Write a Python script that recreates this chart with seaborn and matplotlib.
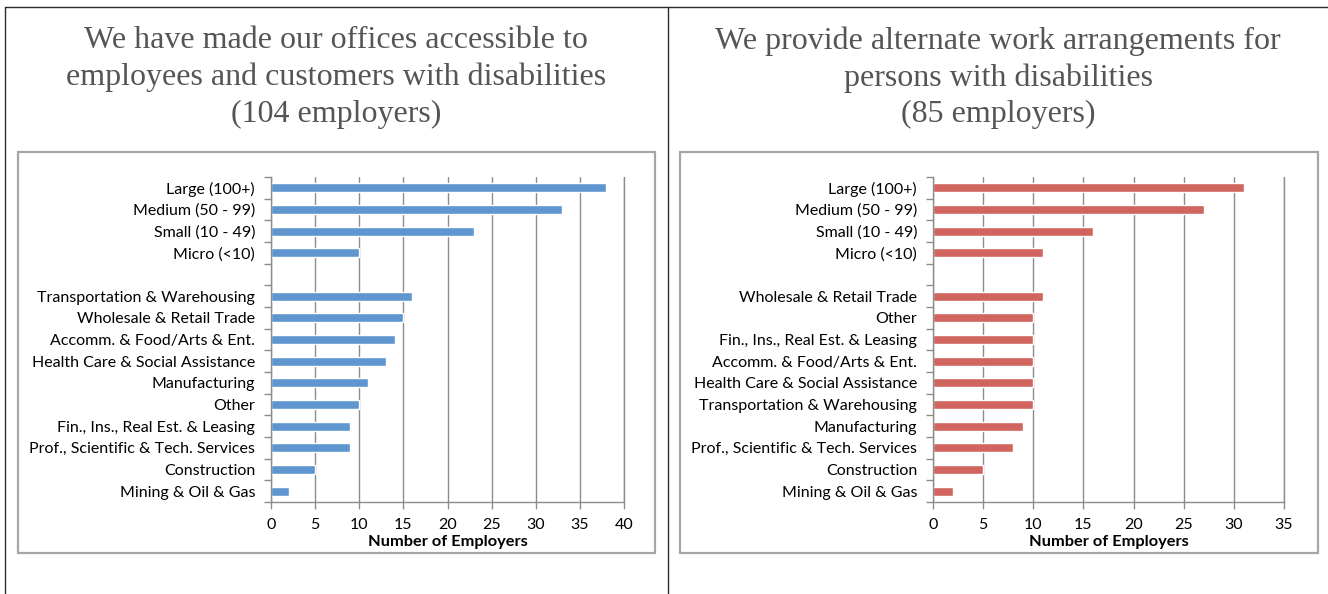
import matplotlib
matplotlib.use("Agg")
import matplotlib.pyplot as plt
import matplotlib.patches as mpatches
from matplotlib.lines import Line2D
from matplotlib.ticker import MultipleLocator, FixedLocator
import seaborn as sns
import pandas as pd

sns.set_theme(style="white")
plt.rcParams["font.family"] = ["Lato", "DejaVu Sans"]

# Panel 1: accessible offices
left_title = "We have made our offices accessible to\nemployees and customers with disabilities\n(104 employers)"
left_cats = ["Large (100+)", "Medium (50 - 99)", "Small (10 - 49)", "Micro (<10)", " ",
             "Transportation & Warehousing", "Wholesale & Retail Trade",
             "Accomm. & Food/Arts & Ent.", "Health Care & Social Assistance",
             "Manufacturing", "Other", "Fin., Ins., Real Est. & Leasing",
             "Prof., Scientific & Tech. Services", "Construction", "Mining & Oil & Gas"]
left_vals = [38, 33, 23, 10, None, 16, 15, 14, 13, 11, 10, 9, 9, 5, 2]
left_xmax = 40

# Panel 2: alternate work arrangements
right_title = "We provide alternate work arrangements for\npersons with disabilities\n(85 employers)"
right_cats = ["Large (100+)", "Medium (50 - 99)", "Small (10 - 49)", "Micro (<10)", " ",
              "Wholesale & Retail Trade", "Other", "Fin., Ins., Real Est. & Leasing",
              "Accomm. & Food/Arts & Ent.", "Health Care & Social Assistance",
              "Transportation & Warehousing", "Manufacturing",
              "Prof., Scientific & Tech. Services", "Construction", "Mining & Oil & Gas"]
right_vals = [31, 27, 16, 11, None, 11, 10, 10, 10, 10, 10, 9, 8, 5, 2]
right_xmax = 35

W, H = 1328, 594
fig = plt.figure(figsize=(W / 100, H / 100), dpi=100)
fig.patch.set_facecolor("white")


def px(x0, y0, x1, y1):
    """Convert a pixel box (top-left origin) into figure fractions."""
    return [x0 / W, 1 - y1 / H, (x1 - x0) / W, (y1 - y0) / H]


# outer frame lines
frame_kw = dict(color="#2b2b2b", lw=1.0, transform=fig.transFigure)
fig.add_artist(Line2D([5 / W, 1], [1 - 7 / H, 1 - 7 / H], **frame_kw))
fig.add_artist(Line2D([5 / W, 5 / W], [0, 1 - 7 / H], **frame_kw))
fig.add_artist(Line2D([668 / W, 668 / W], [0, 1 - 7 / H], **frame_kw))

# chart boxes
for bx0, bx1 in [(18, 655), (680, 1318)]:
    r = mpatches.Rectangle((bx0 / W, 1 - 553 / H), (bx1 - bx0) / W, (553 - 152) / H,
                           transform=fig.transFigure, fill=False,
                           edgecolor="#a6a6a6", lw=1.6)
    fig.add_artist(r)


def draw_panel(box, cats, vals, xmax, color, title, title_x):
    ax = fig.add_axes(px(*box))
    df = pd.DataFrame({"cat": [c for c, v in zip(cats, vals) if v is not None],
                       "val": [v for v in vals if v is not None]})
    sns.barplot(data=df, y="cat", x="val", order=cats, color=color,
                width=0.42, saturation=1, ax=ax, orient="h")
    ax.set_xlim(0, xmax)
    ax.set_ylim(len(cats) - 0.5, -0.5)
    ax.xaxis.set_major_locator(MultipleLocator(5))
    ax.grid(axis="x", color="#8c8c8c", lw=1.0)
    ax.grid(axis="y", visible=False)
    ax.set_axisbelow(True)
    # closing gridline at the right end of the scale
    ax.axvline(xmax, color="#8c8c8c", lw=1.0, clip_on=False, zorder=0.5)
    for s in ["top", "right"]:
        ax.spines[s].set_visible(False)
    for s in ["left", "bottom"]:
        ax.spines[s].set_visible(True)
        ax.spines[s].set_color("#8c8c8c")
        ax.spines[s].set_linewidth(1.0)
    ax.set_ylabel("")
    ax.set_xlabel("Number of Employers", fontsize=11.8, fontweight="bold",
                  color="black", labelpad=2)
    ax.tick_params(axis="y", which="major", length=0, pad=11.5,
                   labelsize=11.5, labelcolor="black")
    ax.yaxis.set_minor_locator(FixedLocator([i + 0.5 for i in range(-1, len(cats))]))
    ax.tick_params(axis="y", which="minor", left=True, length=5, width=1,
                   color="#8c8c8c", direction="out")
    ax.tick_params(axis="x", which="major", bottom=True, length=5, width=1,
                   color="#8c8c8c", direction="out", pad=6.5,
                   labelsize=11.5, labelcolor="black")
    fig.text(title_x / W, 1 - 77.5 / H, title, ha="center", va="center",
             fontsize=23, color="#555555", family=["Liberation Serif"],
             linespacing=1.33)
    return ax


draw_panel((271, 177, 624, 502), left_cats, left_vals, left_xmax,
           "#5f96cf", left_title, 336)
draw_panel((933, 177, 1284, 502), right_cats, right_vals, right_xmax,
           "#d0645f", right_title, 998)

fig.savefig("out.png", dpi=100, facecolor="white")
